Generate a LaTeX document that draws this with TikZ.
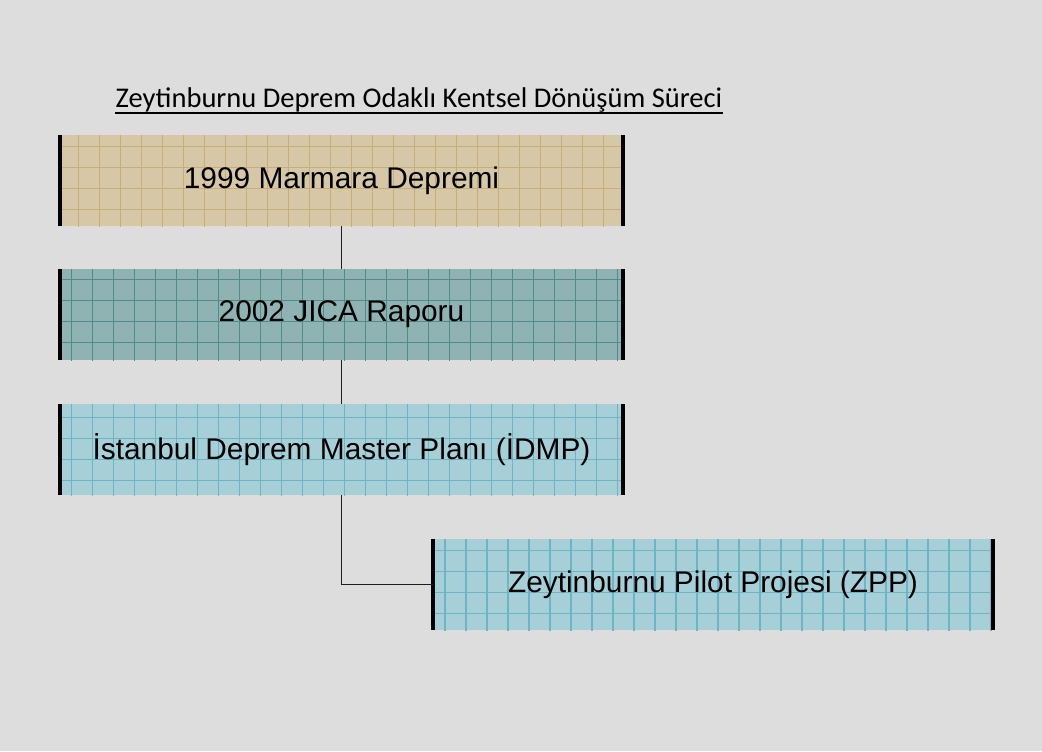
\documentclass[tikz,border=0pt]{standalone}
\usepackage{fontspec}
\setmainfont{Liberation Sans}
\newfontfamily\titlefont{Carlito}
\definecolor{bgc}{HTML}{DDDDDD}
\definecolor{tanfill}{HTML}{D6C7A6}
\definecolor{tangrid}{HTML}{C8AD78}
\definecolor{tealfill}{HTML}{8FB3B3}
\definecolor{tealgrid}{HTML}{4F8C8C}
\definecolor{cyanfill}{HTML}{A7CFD7}
\definecolor{cyangrid}{HTML}{6DB5C5}
\definecolor{linec}{HTML}{1E1E1E}
\tikzset{
  boxbase/.style={rectangle, inner sep=0pt, outer sep=0pt, minimum height=68.25pt,
    font=\fontsize{22.4}{26}\selectfont, text=black},
  gridded/.style={fill=#1fill, path picture={
      \draw[#1grid, line width=0.9pt]
        ([xshift=-20pt,yshift=-20pt]path picture bounding box.south west)
        grid[step=15.75pt]
        ([xshift=20pt,yshift=20pt]path picture bounding box.north east);}},
  sideline/.style={line width=2.3pt, black},
  conn/.style={line width=0.9pt, linec},
  titlestyle/.style={font=\titlefont\fontsize{21.4}{25}\selectfont, inner sep=0pt},
  uline/.style={line width=1.3pt, black}
}
\begin{document}
\begin{tikzpicture}[x=0.75pt, y=-0.75pt]
\path[fill=bgc] (0,0) rectangle (1042,751);
\useasboundingbox (0,0) rectangle (1042,751);

\node[titlestyle, anchor=base] (title) at (419,107) {Zeytinburnu Deprem Odaklı Kentsel Dönüşüm Süreci};
\draw[uline] ([yshift=-4.5pt]title.base west) -- ([yshift=-4.5pt]title.base east);

\node[boxbase, gridded=tan, minimum width=422.25pt] (b1) at (341.5,180.5) {1999 Marmara Depremi};
\node[boxbase, gridded=teal, minimum width=422.25pt] (b2) at (341.5,314.5) {2002 JICA Raporu};
\node[boxbase, gridded=cyan, minimum width=422.25pt] (b3) at (341.5,449.5) {İstanbul Deprem Master Planı (İDMP)};
\node[boxbase, gridded=cyan, minimum width=420pt] (b4) at (713,584.5) {Zeytinburnu Pilot Projesi (ZPP)};

\foreach \b in {b1,b2,b3,b4}{
  \draw[sideline] (\b.north west) -- (\b.south west);
  \draw[sideline] (\b.north east) -- (\b.south east);
}

\draw[conn] (b1.south) -- (b2.north);
\draw[conn] (b2.south) -- (b3.north);
\draw[conn] (b3.south) |- (b4.west);
\end{tikzpicture}
\end{document}
